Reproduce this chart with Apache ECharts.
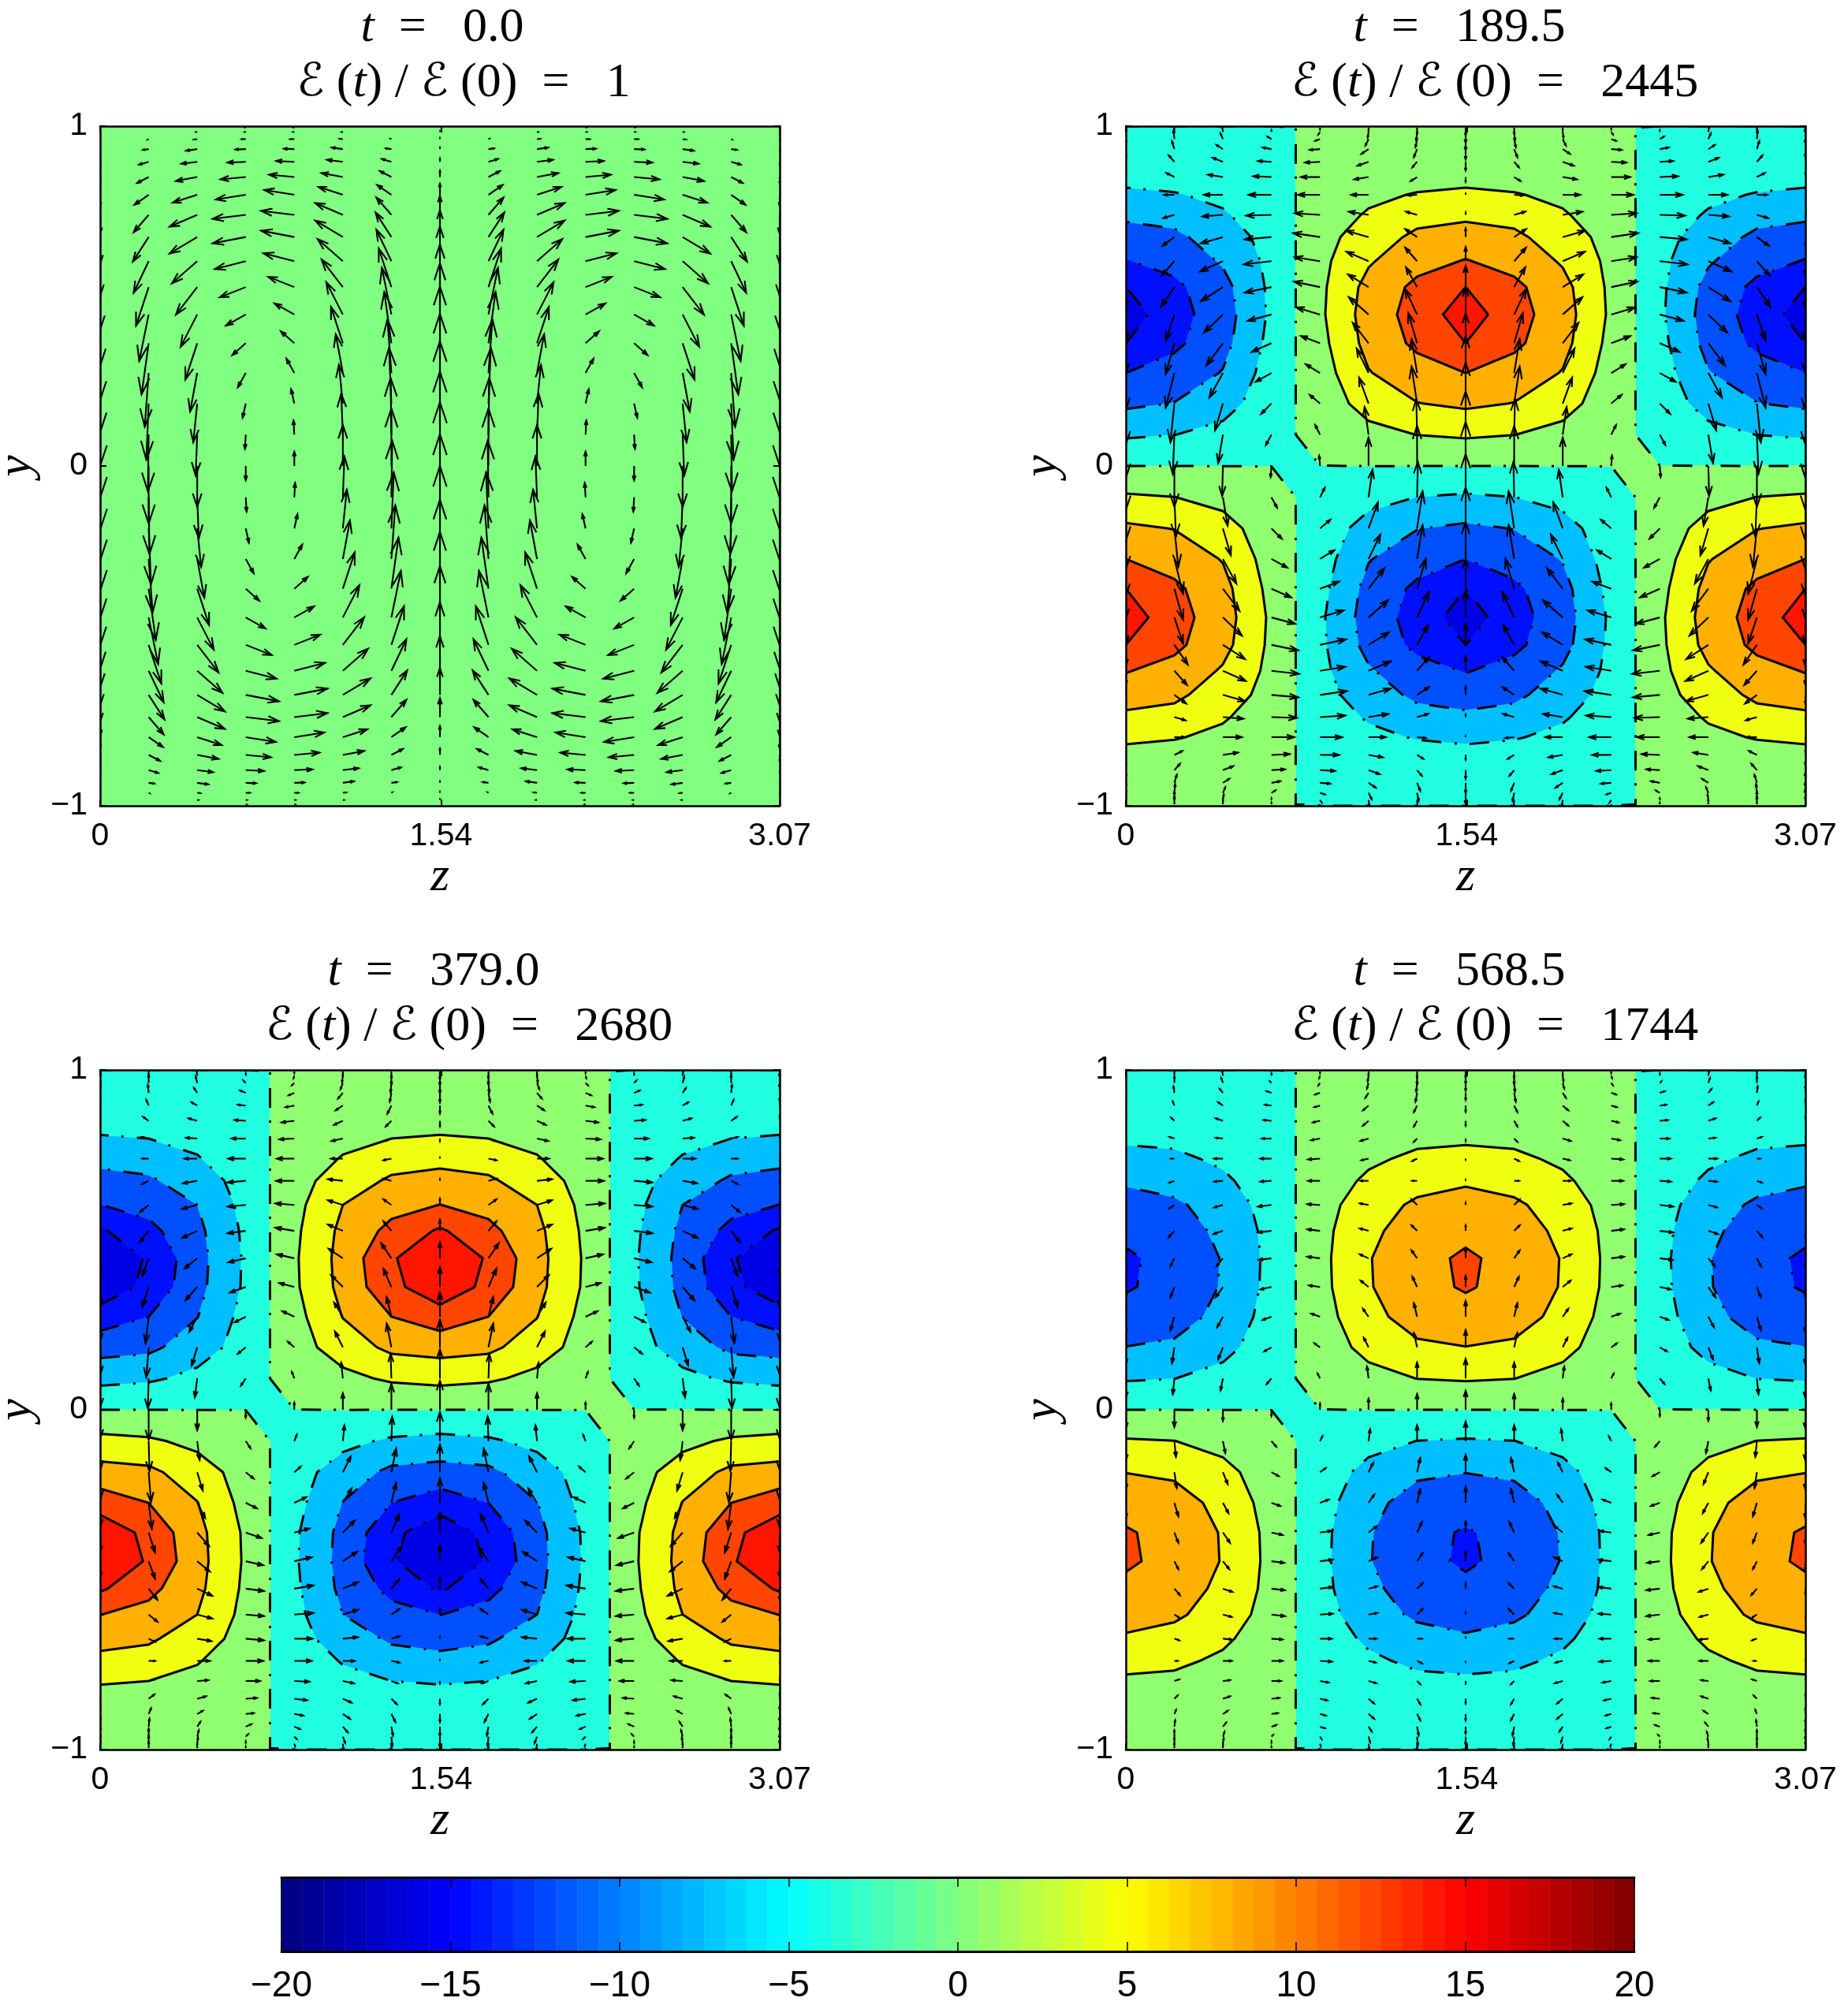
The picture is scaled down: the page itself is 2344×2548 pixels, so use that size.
<!DOCTYPE html>
<html>
<head>
<meta charset="utf-8">
<script src="https://cdn.jsdelivr.net/npm/echarts@6/dist/echarts.min.js"></script>
<style>html,body{margin:0;background:#fff}#main{width:2344px;height:2548px}</style>
</head>
<body>
<div id="main"></div>
<script>
const times = ['0.0', '189.5', '379.0', '568.5'];
const ratios = ['1', '2445', '2680', '1744'];
const zTicks = [0, 1.54, 3.07];

// contour levels and the colour of each band between them
const levels = [-15, -11.25, -7.5, -3.75, 0, 3.75, 7.5, 11.25, 15];
const bandColors = ['#0000e6', '#0010ff', '#0050ff', '#00bfff', '#20ffe0', '#90ff70', '#f0ff10', '#ffb000', '#ff4500', '#ff1500'];

// field, upper half of the box, rows from y=1 down to just above y=0
// columns 4..7 of 0..14, the other columns are the same lobes mirrored
const field2 = [
  [0,.05,.15,.35,.6,.9,1.2,1.6,1.9,2.4,2.75,2.95,3.08,2.6,2.0,1.6,.7],
  [0,.1,.3,.6,1.0,1.5,2.1,3.0,4.1,5.6,7.1,8.7,9.2,8.7,7.3,5.2,2.6],
  [0,.1,.3,.7,1.2,1.8,2.5,3.97,6.2,8.3,10.0,12.1,12.7,12.0,9.7,7.4,3.8],
  [0,.1,.3,.7,1.3,2.0,2.8,4.4,6.6,9.5,11.44,15,17,15,11.25,8.2,4.26]
];
const field3 = [
  [0,.05,.15,.35,.6,.9,1.2,1.6,2.0,2.45,2.6,3.0,3.25,3.15,2.47,2.2,.9],
  [0,.1,.3,.7,1.1,1.7,2.3,3.0,3.94,5.4,7.5,8.4,8.8,8.6,7.6,5.5,2.8],
  [0,.1,.3,.7,1.2,1.9,2.7,3.75,5.8,8.1,10.0,12.3,14.6,14.0,11.25,8.35,4.3],
  [0,.1,.3,.8,1.4,2.2,3.0,3.95,6.3,9.0,11.3,15.5,18,17.5,13.3,8.9,4.9]
];
const field4 = [
  [0,.05,.15,.3,.5,.8,1.0,1.3,1.7,2.0,2.4,2.6,2.7,2.6,1.95,1.43,.7],
  [0,.1,.3,.6,1.0,1.4,1.9,2.6,3.2,4.3,5.6,6.7,7.3,7.25,6.8,5.0,2.4],
  [0,.1,.3,.6,1.0,1.6,2.3,3.1,4.35,6.0,8.2,9.2,10.1,9.75,8.5,7.1,3.8],
  [0,.1,.3,.6,1.1,1.8,2.5,3.3,4.7,6.9,9.4,10.4,11.8,11.7,9.45,7.45,4.1]
];
// the y=0 row sits right on the zero contour, only the sign matters
const midRow = [-.01,-.01,-.01,-.01,-.01,.01,.01,.01,.01,.01,.01,.01,.01,.01,.01];

// velocity, upper half of the box, rows y=1 .. y=0. u for columns 1..6, v for columns 0..7
const u1 = [
  [0,0,0,-1,-7,-12,-14.5,-18,-19,-20,-19,-16,-12,-9,-5,-3,-1,0],
  [0,0,-1,-4,-14,-20,-27,-31,-35,-35,-32,-27,-21,-15,-9,-5,-2,0],
  [0,-.5,-1,-5,-13,-23,-32,-38,-42,-42,-39,-33,-25,-17,-10,-4,-1,0],
  [0,-.5,-1,-5,-13,-23,-32,-38,-42,-42,-39,-33,-25,-17,-10,-4,-1,0],
  [0,0,-1,-4,-14,-20,-27,-31,-35,-35,-32,-27,-21,-15,-9,-5,-2,0],
  [0,0,0,-1,-7,-12,-14.5,-18,-19,-20,-19,-16,-12,-9,-5,-3,-1,0]
];
const v1 = [
  [0,0,-.5,-1,-1.5,-4,-8,-14,-24,-34,-44,-54,-65,-72,-75,-79,-80,-81],
  [0,0,0,-.5,-1,-3.5,-7.5,-12.5,-22,-31,-40,-49,-59,-65,-68,-71,-72,-73],
  [0,0,0,-.5,-2,-2.5,-5,-10,-15,-21,-28,-35,-41,-46,-49,-49,-52,-52],
  [0,0,0,0,-.5,-1,-3,-6,-5,-8,-10,-13,-14,-15,-18,-18,-18,-18],
  [0,0,0,0,.5,1,3,6,5,8,10,13,14,15,18,18,18,18],
  [0,0,0,.5,2,2.5,5,10,15,21,28,35,41,46,49,49,52,52],
  [0,0,0,.5,1,3.5,7.5,12.5,22,31,40,49,59,65,68,71,72,73],
  [0,0,.5,1,1.5,4,8,14,24,34,44,54,65,72,75,79,80,81]
];
const u2 = [
  [0,0,0,-1,-3,-7,-10,-13,-14,-15,-16,-17,-11,-11,-11,-5,-2,0],
  [0,0,-1,-3,-8,-13,-19,-24,-26,-28,-29,-28,-24,-21,-17,-10,-6,-1],
  [0,0,0,-5,-11,-17,-23,-29,-32,-34,-35,-34,-30,-25,-20,-13,-7,-1],
  [0,0,-2,-6,-13,-19,-24,-28,-32,-34,-32,-33,-30,-24,-18,-13,-6,-1],
  [0,0,-1,-4,-9,-14,-18,-22,-25,-28,-28,-26,-25,-20,-15,-12,-5,0],
  [0,0,-1,-2,-4,-6,-8,-11,-14,-15,-15,-14,-15,-11,-7,-7,-1,0]
];
const v2 = [
  [0,10,14,14,13,11,6,-1,-3,-11,-18,-27,-34,-38,-47,-52,-55,-56],
  [0,10,11,11,10,8,5,0,-4,-11,-18,-25,-33,-39,-44,-49,-50,-52],
  [0,6,7,7,5,5,3,0,-2,-8,-13,-18,-23,-28,-31,-34,-36,-38],
  [0,2,2,3,2,1,1,0,-1,-3,-4,-7,-8,-11,-11,-13,-13,-14],
  [0,-2,-3,-2,-1,-1,0,0,2,5,5,7,9,9,11,11,12,13],
  [0,-4,-7,-8,-6,-5,-3,0,4,8,12,16,22,26,31,33,35,36],
  [0,-8,-11,-10,-10,-7,-5,-1,4,10,17,25,32,38,43,47,45,51],
  [0,-10,-14,-14,-13,-11,-6,1,3,11,18,27,34,38,47,52,55,56]
];
const u3 = [
  [0,0,0,0,-1,-3,-7,-8,-8,-8,-11,-11,-8,-8,-4,-3,-1,0],
  [0,0,-1,-2,-4,-7,-11,-14,-16,-18,-19,-19,-16,-15,-10,-7,-3,0],
  [0,0,0,-3,-7,-10,-14,-18,-22,-23,-23,-23,-22,-20,-14,-10,-6,0],
  [0,0,-1,-3,-7,-11,-16,-19,-22,-23,-24,-24,-22,-19,-15,-8,-3,0],
  [0,0,-1,-3,-6,-9,-11,-14,-15,-19,-19,-19,-18,-15,-11,-10,-2,0],
  [0,0,0,-1,-2,-5,-7,-8,-10,-10,-10,-10,-13,-10,-6,-6,-1,0]
];
const v3 = [
  [0,10,12,13,12,10,7,3,-1,-2,-8,-14,-20,-25,-31,-35,-37,-37],
  [0,8,10,10,10,7,5,2,0,-4,-9,-14,-22,-25,-33,-38,-38,-38],
  [0,6,8,8,6,4,3,1,0,-3,-5,-9,-13,-17,-19,-23,-24,-26],
  [0,2,3,3,3,1,1,0,0,-2,-2,-3,-5,-7,-7,-8,-9,-10],
  [0,-2,-3,-3,-3,-2,-2,-1,0,0,2,4,5,5,7,7,8,9],
  [0,-6,-8,-8,-7,-6,-5,-3,0,2,6,8,12,15,18,20,20,21],
  [0,-8,-11,-12,-11,-10,-7,-3,-2,3,7,12,19,23,25,30,31,33],
  [0,-10,-12,-13,-12,-10,-7,-3,1,2,8,14,20,25,31,35,37,37]
];
const u4 = [
  [0,0,0,0,-1,-2,-4,-6,-4,-6,-6,-7,-5,-5,-5,-3,-2,0],
  [0,0,-1,-2,-4,-6,-9,-9,-11,-11,-11,-12,-8,-9,-7,-6,-3,0],
  [0,0,0,-2,-6,-8,-10,-12,-14,-14,-17,-17,-16,-14,-11,-9,-6,0],
  [0,0,-1,-2,-6,-7,-9,-11,-15,-15,-16,-16,-16,-14,-11,-7,-3,0],
  [0,0,-1,-2,-4,-7,-7,-10,-9,-10,-11,-11,-11,-10,-7,-6,-2,0],
  [0,0,0,-1,-2,-4,-4,-4,-6,-6,-7,-7,-7,-6,-4,-4,0,0]
];
const v4 = [
  [0,8,10,10,9,8,6,3,1,-1,-3,-7,-12,-14,-20,-22,-25,-24],
  [0,6,8,8,8,5,4,2,0,-2,-4,-8,-10,-13,-17,-20,-20,-22],
  [0,5,7,6,5,4,3,1,0,-1,-3,-4,-10,-13,-13,-15,-15,-14],
  [0,2,3,2,2,1,1,0,0,-1,-2,-2,-2,-3,-4,-5,-7,-8],
  [0,-2,-3,-3,-2,-2,-2,-2,-1,0,1,2,2,2,4,5,6,8],
  [0,-5,-7,-7,-6,-6,-6,-3,-2,0,2,3,5,8,10,12,15,14],
  [0,-8,-11,-11,-11,-8,-7,-4,-3,0,7,7,10,13,17,18,20,20],
  [0,-8,-10,-10,-9,-8,-6,-3,-1,1,3,7,12,14,20,22,25,24]
];

const fields = [null, field2, field3, field4];
const us = [u1, u2, u3, u4];
const vs = [v1, v2, v3, v4];

// panel layout
const panels = [
  {left: 127, top: 160, t: -2, e: 25},
  {left: 1428, top: 160, t: -13, e: 32},
  {left: 127, top: 1357, t: -13, e: 32},
  {left: 1428, top: 1357, t: -13, e: 32}
];
const boxW = 862, boxH = 862;
const zMax = 3.07;
const nz = 14, ny = 34;
const zAt = i => zMax * i / nz;
const yAt = j => Math.cos(Math.PI * j / ny); // rows are Chebyshev points

function topField(f, c, j) {
  const m = c > 7 ? 14 - c : c;
  return m >= 4 ? f[m - 4][j] : -f[3 - m][j];
}
function fieldAt(f, i, j) {
  if (j === 17) return midRow[i];
  if (j > 17) return topField(f, Math.abs(7 - i), ny - j);
  return topField(f, i, j);
}
function velAt(p, i, j) {
  const m = i > 7 ? 14 - i : i;
  const r = j > 17 ? ny - j : j;
  let u = m >= 1 && m <= 6 ? us[p][m - 1][r] : 0;
  const v = vs[p][m][r];
  if (i > 7) u = -u;
  if (j > 17) u = -u;
  return [u, v];
}

function clipPoly(poly, level, above) {
  const out = [];
  for (let k = 0; k < poly.length; k++) {
    const a = poly[k], b = poly[(k + 1) % poly.length];
    const ina = above ? a[2] >= level : a[2] < level;
    const inb = above ? b[2] >= level : b[2] < level;
    if (ina) out.push(a);
    if (ina !== inb) {
      const s = (level - a[2]) / (b[2] - a[2]);
      out.push([a[0] + s * (b[0] - a[0]), a[1] + s * (b[1] - a[1]), level]);
    }
  }
  return out;
}

function buildBands(f) {
  const polys = [];
  for (let i = 0; i < nz; i++) {
    for (let j = 0; j < ny; j++) {
      const cell = [[i, j], [i + 1, j], [i + 1, j + 1], [i, j + 1]].map(c => [zAt(c[0]), yAt(c[1]), fieldAt(f, c[0], c[1])]);
      for (let b = 0; b < bandColors.length; b++) {
        let poly = cell;
        if (b > 0) poly = clipPoly(poly, levels[b - 1], true);
        if (poly.length && b < levels.length) poly = clipPoly(poly, levels[b], false);
        if (poly.length > 2) polys.push({points: poly.map(q => [q[0], q[1]]), color: bandColors[b]});
      }
    }
  }
  return polys;
}

function buildLines(f) {
  const lines = [];
  levels.forEach(level => {
    const segs = [];
    for (let i = 0; i < nz; i++) {
      for (let j = 0; j < ny; j++) {
        const c = [[i, j], [i + 1, j], [i + 1, j + 1], [i, j + 1]];
        const cross = [];
        for (let k = 0; k < 4; k++) {
          const a = c[k], b = c[(k + 1) % 4];
          const fa = fieldAt(f, a[0], a[1]), fb = fieldAt(f, b[0], b[1]);
          if ((fa >= level) !== (fb >= level)) {
            const s = (level - fa) / (fb - fa);
            cross.push([zAt(a[0]) + s * (zAt(b[0]) - zAt(a[0])), yAt(a[1]) + s * (yAt(b[1]) - yAt(a[1]))]);
          }
        }
        if (cross.length >= 2) segs.push([cross[0], cross[1]]);
        if (cross.length === 4) segs.push([cross[2], cross[3]]);
      }
    }
    // chain the pieces so the dash pattern runs along the whole line
    const key = q => q[0].toFixed(5) + ',' + q[1].toFixed(5);
    const used = segs.map(() => false);
    segs.forEach((s, n) => {
      if (used[n]) return;
      used[n] = true;
      const pts = [s[0], s[1]];
      let grown = true;
      while (grown) {
        grown = false;
        for (let m = 0; m < segs.length; m++) {
          if (used[m]) continue;
          const t = segs[m];
          if (key(t[0]) === key(pts[pts.length - 1])) pts.push(t[1]);
          else if (key(t[1]) === key(pts[pts.length - 1])) pts.push(t[0]);
          else if (key(t[0]) === key(pts[0])) pts.unshift(t[1]);
          else if (key(t[1]) === key(pts[0])) pts.unshift(t[0]);
          else continue;
          used[m] = true;
          grown = true;
        }
      }
      lines.push({points: pts, dashed: level < 0.01});
    });
  });
  return lines;
}

function arrowShapes(base, tip) {
  const dx = tip[0] - base[0], dy = tip[1] - base[1];
  const al = 0.33, be = 0.33;
  const bx = tip[0] - al * dx, by = tip[1] - al * dy;
  return [
    [base, tip],
    [[bx + be * al * dy, by - be * al * dx], tip, [bx - be * al * dy, by + be * al * dx]]
  ];
}

function jet(k) {
  const t = (k + 0.5) / 64;
  const ch = c => Math.round(255 * Math.max(0, Math.min(1, 1.5 - Math.abs(4 * t - c))));
  return 'rgb(' + ch(3) + ',' + ch(2) + ',' + ch(1) + ')';
}

const grid = [], xAxis = [], yAxis = [], series = [], title = [];
const mathFont = 'Liberation Serif';
const titleRich = {
  m: {fontFamily: mathFont, fontStyle: 'italic', fontWeight: 'normal', fontSize: 62, color: '#000'},
  r: {fontFamily: mathFont, fontWeight: 'normal', fontSize: 62, color: '#000'},
  s: {fontFamily: 'DejaVu Sans', fontStyle: 'italic', fontWeight: 'normal', fontSize: 58, color: '#000'}
};

panels.forEach((pan, p) => {
  const cx = pan.left + boxW / 2;
  title.push({text: '{m|t}{r|  =   ' + times[p] + '}', left: cx + pan.t, top: pan.top - 160, textAlign: 'center', textStyle: {fontWeight: 'normal', rich: titleRich}});
  title.push({text: '{s|ℰ}{r| (}{m|t}{r|) / }{s|ℰ}{r| (0)  =   ' + ratios[p] + '}', left: cx + pan.e, top: pan.top - 160 + 70, textAlign: 'center', textStyle: {fontWeight: 'normal', rich: titleRich}});

  grid.push({left: pan.left, top: pan.top, width: boxW, height: boxH, backgroundColor: '#80ff80', show: true, borderWidth: 0, outerBoundsMode: 'none'});
  const tick = {show: true, inside: true, length: 8, lineStyle: {color: '#000', width: 2}};
  const line = {show: true, onZero: false, lineStyle: {color: '#000', width: 2.5}};
  const gi = p;
  xAxis.push({
    type: 'value', gridIndex: gi, min: 0, max: zMax, position: 'bottom', z: 10, splitLine: {show: false},
    axisLine: line,
    axisTick: Object.assign({customValues: zTicks}, tick),
    axisLabel: {customValues: zTicks, margin: 18, color: '#000', fontFamily: 'Liberation Sans', fontSize: 41, formatter: v => v === 0 ? '0' : v.toFixed(2)},
    name: 'z', nameLocation: 'middle', nameGap: 55,
    nameTextStyle: {fontFamily: mathFont, fontStyle: 'italic', fontSize: 62, color: '#000'}
  });
  xAxis.push({
    type: 'value', gridIndex: gi, min: 0, max: zMax, position: 'top', z: 10, splitLine: {show: false},
    axisLine: line, axisTick: Object.assign({customValues: zTicks}, tick), axisLabel: {show: false}
  });
  yAxis.push({
    type: 'value', gridIndex: gi, min: -1, max: 1, interval: 1, position: 'left', z: 10, splitLine: {show: false},
    axisLine: line, axisTick: tick,
    axisLabel: {margin: 16, color: '#000', fontFamily: 'Liberation Sans', fontSize: 41, formatter: v => String(v).replace('-', '−')},
    name: 'y', nameLocation: 'middle', nameGap: 74,
    nameTextStyle: {fontFamily: mathFont, fontStyle: 'italic', fontSize: 62, color: '#000'}
  });
  yAxis.push({
    type: 'value', gridIndex: gi, min: -1, max: 1, interval: 1, position: 'right', z: 10, splitLine: {show: false},
    axisLine: line, axisTick: tick, axisLabel: {show: false}
  });
  const xi = p * 2, yi = p * 2;

  const f = fields[p];
  if (f) {
    const polys = buildBands(f);
    series.push({
      type: 'custom', xAxisIndex: xi, yAxisIndex: yi, z: 2, clip: true, silent: true,
      data: polys.map((q, n) => [n]), encode: {x: -1, y: -1},
      renderItem: (params, api) => {
        const q = polys[params.dataIndex];
        return {type: 'polygon', shape: {points: q.points.map(c => api.coord(c))}, style: {fill: q.color, stroke: q.color, lineWidth: 0.8}};
      }
    });
    const lines = buildLines(f);
    series.push({
      type: 'custom', xAxisIndex: xi, yAxisIndex: yi, z: 3, clip: true, silent: true,
      data: lines.map((q, n) => [n]), encode: {x: -1, y: -1},
      renderItem: (params, api) => {
        const q = lines[params.dataIndex];
        return {type: 'polyline', shape: {points: q.points.map(c => api.coord(c))}, style: {fill: null, stroke: '#000', lineWidth: 3, lineDash: q.dashed ? [25, 17, 3, 16] : null}};
      }
    });
  }

  const arrows = [];
  for (let i = 0; i <= nz; i++) {
    for (let j = 0; j <= ny; j++) {
      const w = velAt(p, i, j);
      if (w[0] !== 0 || w[1] !== 0) arrows.push([zAt(i), yAt(j), w[0], w[1]]);
    }
  }
  series.push({
    type: 'custom', xAxisIndex: xi, yAxisIndex: yi, z: 4, clip: true, silent: true,
    data: arrows, encode: {x: 0, y: 1},
    renderItem: (params, api) => {
      const z = api.value(0), y = api.value(1);
      const base = api.coord([z, y]);
      const tip = api.coord([z + api.value(2) * zMax / boxW, y + api.value(3) * 2 / boxH]);
      return {
        type: 'group',
        children: arrowShapes(base, tip).map(pts => ({type: 'polyline', shape: {points: pts}, style: {fill: null, stroke: '#000', lineWidth: 2.1}}))
      };
    }
  });
});

// colour bar
const cbLeft = 357, cbTop = 2381, cbW = 1716, cbH = 94;
grid.push({left: cbLeft, top: cbTop, width: cbW, height: cbH, outerBoundsMode: 'none'});
const cbTick = {show: true, inside: true, length: 12, lineStyle: {color: '#000', width: 1.5}};
const cbLine = {show: true, onZero: false, lineStyle: {color: '#000', width: 3}};
xAxis.push({
  type: 'value', gridIndex: 4, min: -20, max: 20, interval: 5, position: 'bottom', z: 10, splitLine: {show: false},
  axisLine: cbLine, axisTick: cbTick,
  axisLabel: {margin: 21, color: '#000', fontFamily: 'Liberation Sans', fontSize: 46, formatter: v => String(v).replace('-', '−')}
});
xAxis.push({
  type: 'value', gridIndex: 4, min: -20, max: 20, interval: 5, position: 'top', z: 10, splitLine: {show: false},
  axisLine: cbLine, axisTick: cbTick, axisLabel: {show: false}
});
yAxis.push({type: 'value', gridIndex: 4, min: 0, max: 1, show: true, position: 'left', z: 10, splitLine: {show: false}, axisLine: {show: true, onZero: false, lineStyle: {color: '#000', width: 1.5}}, axisTick: {show: false}, axisLabel: {show: false}});
yAxis.push({type: 'value', gridIndex: 4, min: 0, max: 1, show: true, position: 'right', z: 10, splitLine: {show: false}, axisLine: {show: true, onZero: false, lineStyle: {color: '#000', width: 1.5}}, axisTick: {show: false}, axisLabel: {show: false}});
const cbCells = [];
for (let k = 0; k < 64; k++) cbCells.push([k, -20 + k * 40 / 64, -20 + (k + 1) * 40 / 64]);
series.push({
  type: 'custom', xAxisIndex: 8, yAxisIndex: 8, z: 2, silent: true,
  data: cbCells, encode: {x: [1, 2], y: -1},
  renderItem: (params, api) => {
    const a = api.coord([api.value(1), 1]), b = api.coord([api.value(2), 0]);
    const c = jet(api.value(0));
    return {type: 'rect', shape: {x: a[0], y: a[1], width: b[0] - a[0], height: b[1] - a[1]}, style: {fill: c, stroke: c, lineWidth: 0.5}};
  }
});

const chart = echarts.init(document.getElementById('main'), null, {renderer: 'canvas'});
chart.setOption({animation: false, backgroundColor: '#fff', title, grid, xAxis, yAxis, series});
</script>
</body>
</html>
